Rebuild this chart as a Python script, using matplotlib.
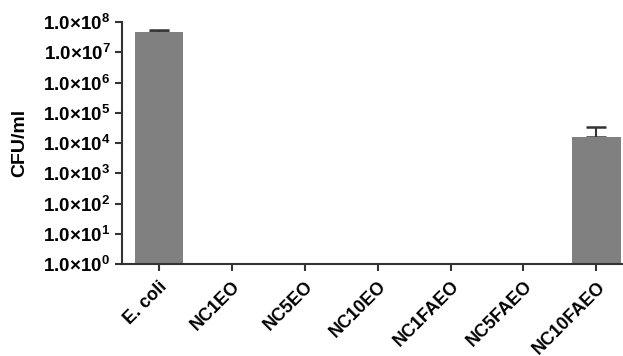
import numpy as np
import matplotlib
matplotlib.use("Agg")
import matplotlib.pyplot as plt

plt.rcParams['font.family'] = ['Liberation Sans', 'DejaVu Sans']
plt.rcParams['font.weight'] = 'bold'
plt.rcParams['mathtext.fontset'] = 'custom'
plt.rcParams['mathtext.rm'] = 'Liberation Sans:bold'
plt.rcParams['mathtext.bf'] = 'Liberation Sans:bold'

samples = ["E. coli", "NC1EO", "NC5EO", "NC10EO", "NC1FAEO", "NC5FAEO", "NC10FAEO"]
cfu = [4.7e7, 0, 0, 0, 0, 0, 1.6e4]
cfu_err = [0.7e7, 0, 0, 0, 0, 0, 1.7e4]
exponents = list(range(0, 9))

fig = plt.figure(figsize=(6.23, 3.56), dpi=100)
ax = fig.add_axes([0.196, 0.258, 0.820, 0.680])

x = np.arange(len(samples))
ax.bar(x, cfu, width=0.66, color="#808080", zorder=2)

has = np.array(cfu) > 0
ax.errorbar(x[has], np.array(cfu)[has],
            yerr=[np.zeros(has.sum()), np.array(cfu_err)[has]],
            fmt='none', ecolor="#333333", elinewidth=1.5, capsize=7,
            capthick=1.8, zorder=1)

ax.set_yscale('log')
ax.set_ylim(1, 1e8)
ax.set_xlim(-0.5, 6.5)
ax.set_yticks([10.0 ** e for e in exponents])
ax.set_yticklabels([r'$\mathbf{1.0{\times}10^{%d}}$' % e for e in exponents], fontsize=13.5)
ax.minorticks_off()
ax.set_xticks(x)
ax.set_xticklabels(samples, rotation=45, ha='right', rotation_mode='anchor',
                   fontsize=13, fontweight='bold')
ax.set_ylabel("CFU/ml", fontsize=14, fontweight='bold')
ax.yaxis.set_label_coords(-0.183, 0.5)

for side in ('top', 'right'):
    ax.spines[side].set_visible(False)
for side in ('left', 'bottom'):
    ax.spines[side].set_linewidth(1.5)
    ax.spines[side].set_color("#333333")
ax.tick_params(axis='both', width=1.5, length=5, color="#333333")
ax.tick_params(axis='x', pad=5)

fig.savefig("out.png", dpi=100)
